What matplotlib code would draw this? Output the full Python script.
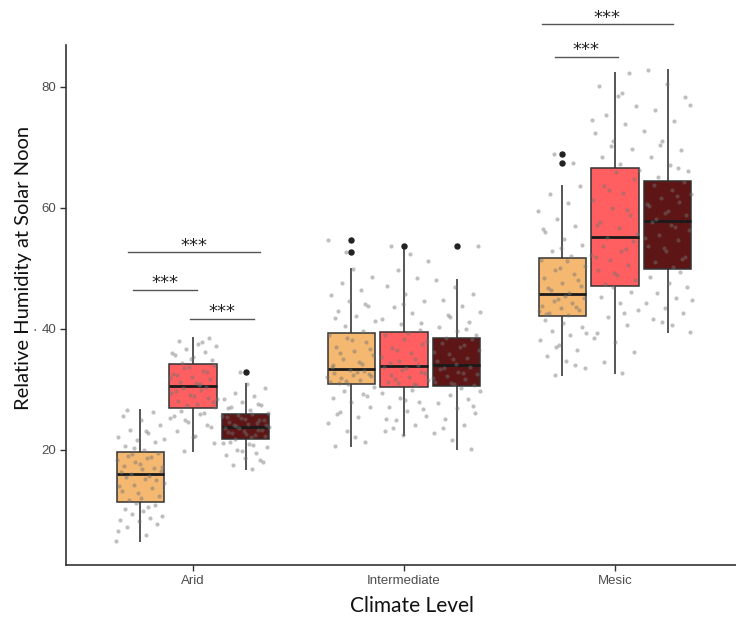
import numpy as np
import matplotlib
matplotlib.use("Agg")
import matplotlib.pyplot as plt

# ---------------- data ----------------
climate_levels = ["Arid", "Intermediate", "Mesic"]
treatments = ["T1", "T2", "T3"]
box_colors = ["#F4B871", "#FF5F60", "#5E1515"]

# box summary per climate level (rows) and treatment (columns)
q1 = [[11.4, 26.8, 21.7], [30.8, 30.3, 30.5], [42.0, 47.0, 49.8]]
median = [[16.0, 30.5, 23.8], [33.3, 33.8, 33.9], [45.7, 55.1, 57.8]]
q3 = [[19.6, 34.1, 25.9], [39.3, 39.4, 38.5], [51.6, 66.5, 64.4]]
whisker_low = [[4.8, 19.8, 16.8], [20.6, 22.4, 20.1], [32.3, 32.7, 39.5]]
whisker_high = [[26.5, 38.5, 30.8], [49.9, 53.6, 48.1], [63.6, 82.2, 82.8]]
outliers = [[[], [], [32.9]], [[52.7, 54.6], [53.6], [53.6]], [[67.4, 68.8], [], []]]

# individual observations
obs_arid_t1 = [4.8, 5.9, 7.2, 7.6, 8.1, 8.4, 8.7, 9.3, 9.0, 9.9, 10.2, 10.8, 11.1, 6.5, 10.5,
               11.7, 12.3, 12.0, 13.2, 13.6, 14.1, 14.4, 15.1, 15.5, 14.9, 12.8, 13.9, 15.7, 16.0,
               16.4, 16.8, 17.3, 17.0, 17.9, 18.2, 18.6, 19.0, 19.4, 17.6, 16.2, 18.8, 19.2, 17.1,
               20.0, 20.6, 21.2, 21.5, 22.1, 22.8, 23.3, 24.0, 24.9, 25.6, 26.2, 20.3, 21.8, 23.0, 26.5]
obs_arid_t2 = [19.8, 21.0, 22.3, 23.1, 24.0, 24.6, 25.2, 25.9, 26.4, 23.7, 22.0, 25.5, 26.1, 24.9,
               27.0, 27.6, 28.1, 28.5, 29.0, 29.4, 29.9, 30.2, 27.9, 28.8, 29.6, 30.4, 27.3, 28.3,
               30.7, 31.2, 31.6, 32.0, 32.5, 33.0, 33.4, 33.9, 31.0, 32.3, 32.8, 33.7, 31.9, 30.9,
               34.3, 34.8, 35.3, 35.7, 36.2, 36.6, 37.1, 37.5, 38.0, 38.5, 35.0, 36.0, 37.8]
obs_arid_t3 = [16.8, 17.4, 17.9, 18.6, 19.1, 19.5, 20.0, 20.4, 20.9, 21.3, 18.2, 19.8, 21.0, 20.7,
               21.8, 22.2, 22.5, 22.9, 23.2, 23.5, 23.7, 22.0, 22.7, 23.3, 23.0, 23.6, 22.4, 23.9,
               24.0, 24.3, 24.6, 24.9, 25.2, 25.5, 25.8, 24.1, 24.8, 25.0, 25.4, 24.4, 25.7,
               26.1, 26.5, 27.0, 27.4, 27.9, 28.3, 28.8, 29.4, 30.1, 30.8, 26.8, 27.6, 32.9]
obs_int_t1 = [20.6, 21.3, 23.0, 24.4, 25.3, 26.2, 27.1, 27.8, 28.5, 29.1, 29.7, 30.3, 22.1, 25.9, 28.9,
              30.9, 31.2, 31.5, 31.8, 32.1, 32.4, 32.7, 33.0, 31.4, 32.0, 32.9, 31.0, 32.5, 33.2,
              33.6, 34.2, 34.9, 35.6, 36.3, 37.0, 37.7, 38.4, 39.0, 34.5, 35.9, 36.7, 38.1, 33.9,
              39.6, 40.4, 41.2, 42.1, 42.9, 43.8, 44.6, 45.5, 46.4, 47.5, 48.6, 49.9, 41.7, 44.0, 52.7, 54.6]
obs_int_t2 = [22.4, 23.1, 24.0, 24.8, 25.6, 26.3, 27.1, 27.9, 28.6, 29.3, 29.9, 23.6, 26.7, 28.2, 25.0,
              30.6, 31.0, 31.5, 32.0, 32.4, 32.8, 33.2, 33.6, 30.8, 31.7, 32.6, 33.4, 31.2,
              34.0, 34.6, 35.3, 36.0, 36.8, 37.5, 38.2, 38.9, 35.0, 36.4, 37.9, 39.2, 34.3,
              39.8, 40.7, 41.6, 42.5, 43.5, 44.6, 45.8, 47.0, 48.3, 49.7, 51.2, 52.4, 53.6, 41.0, 44.1]
obs_int_t3 = [20.1, 21.5, 22.8, 24.0, 25.1, 26.0, 26.9, 27.7, 28.4, 29.0, 29.6, 30.2, 23.5, 27.2,
              30.8, 31.2, 31.7, 32.1, 32.5, 32.9, 33.3, 33.7, 31.0, 31.9, 32.7, 33.5, 30.6,
              34.1, 34.6, 35.2, 35.8, 36.4, 37.0, 37.6, 38.2, 34.9, 36.1, 37.3, 38.4,
              38.9, 39.6, 40.3, 41.1, 41.9, 42.8, 43.7, 44.7, 45.8, 46.9, 48.1, 40.0, 42.2, 53.6]
obs_mes_t1 = [32.3, 33.4, 34.6, 35.5, 36.4, 37.3, 38.1, 38.9, 39.6, 40.3, 40.9, 41.5, 33.9, 36.9, 39.2,
              42.2, 42.6, 43.0, 43.4, 43.8, 44.2, 44.6, 45.0, 45.4, 42.4, 43.6, 44.9, 42.9,
              45.9, 46.4, 47.0, 47.6, 48.3, 49.0, 49.7, 50.4, 51.1, 46.7, 48.0, 50.0, 51.4,
              52.0, 52.9, 53.8, 54.8, 55.9, 57.0, 58.2, 59.5, 60.8, 62.2, 63.6, 53.3, 56.4, 67.4, 68.8]
obs_mes_t2 = [32.7, 34.5, 36.2, 37.8, 39.3, 40.6, 41.9, 43.1, 44.2, 45.2, 46.1, 46.8, 38.5, 42.5,
              47.4, 48.1, 48.9, 49.7, 50.5, 51.3, 52.1, 52.9, 53.7, 54.5, 49.2, 51.8, 53.2, 54.9,
              55.6, 56.6, 57.7, 58.8, 60.0, 61.2, 62.4, 63.6, 64.8, 65.9, 57.2, 59.6, 62.9, 66.3,
              67.2, 68.4, 69.7, 71.0, 72.4, 73.8, 75.3, 76.8, 78.4, 80.1, 82.2, 70.2, 74.5, 79.0]
obs_mes_t3 = [39.5, 40.6, 41.6, 42.5, 43.4, 44.2, 45.0, 45.9, 46.8, 47.6, 48.5, 49.3, 41.1, 44.7,
              50.2, 51.0, 51.9, 52.8, 53.7, 54.6, 55.5, 56.3, 57.1, 57.6, 51.5, 53.3, 55.0, 56.8,
              58.1, 58.8, 59.5, 60.2, 60.9, 61.6, 62.3, 63.0, 63.7, 64.2, 59.1, 60.6, 62.0,
              65.0, 66.0, 67.1, 68.3, 69.6, 71.0, 72.6, 74.3, 76.2, 78.3, 80.5, 82.8, 66.6, 70.3, 77.0]

observations = [[obs_arid_t1, obs_arid_t2, obs_arid_t3],
                [obs_int_t1, obs_int_t2, obs_int_t3],
                [obs_mes_t1, obs_mes_t2, obs_mes_t3]]

# significance brackets: (x start, x end, y, label) in axis data units
brackets = [(0.693, 1.318, 52.6, "***"),
            (0.717, 1.020, 46.4, "***"),
            (0.986, 1.289, 41.6, "***"),
            (2.653, 3.273, 90.3, "***"),
            (2.713, 3.014, 84.9, "***")]

# ---------------- figure ----------------
W, H = 736, 620
fig = plt.figure(figsize=(W / 100, H / 100), dpi=100)
ax = fig.add_axes([66 / W, 55 / H, (W - 66) / W, 520 / H])

dodge = 0.25
box_w = 0.224

stats = []
positions = []
facecolors = []
for g in range(len(climate_levels)):
    for t in range(len(treatments)):
        stats.append(dict(med=median[g][t], q1=q1[g][t], q3=q3[g][t],
                          whislo=whisker_low[g][t], whishi=whisker_high[g][t],
                          fliers=outliers[g][t]))
        positions.append(g + 1 + (t - 1) * dodge)
        facecolors.append(box_colors[t])

bp = ax.bxp(stats, positions=positions, widths=box_w, patch_artist=True,
            showcaps=False, manage_ticks=False,
            boxprops=dict(edgecolor="#333333", linewidth=1.1),
            whiskerprops=dict(color="#555555", linewidth=1.4),
            medianprops=dict(color="#1a1a1a", linewidth=2.0),
            flierprops=dict(marker="o", markerfacecolor="#222222",
                            markeredgecolor="#222222", markersize=3.6))
for patch, fc in zip(bp["boxes"], facecolors):
    patch.set_facecolor(fc)
    patch.set_zorder(2)
for item in bp["whiskers"]:
    item.set_zorder(1)

# jittered observations (deterministic horizontal spread)
golden = 0.6180339887
for g in range(len(climate_levels)):
    for t in range(len(treatments)):
        vals = np.asarray(observations[g][t])
        k = np.arange(len(vals))
        offs = ((k * golden + 0.31 * t + 0.17 * g) % 1.0 - 0.5) * 0.23
        ax.scatter(g + 1 + (t - 1) * dodge + offs, vals, s=9, color="#737373",
                   alpha=0.45, linewidths=0, zorder=3)

# significance brackets
for x0, x1, y, lab in brackets:
    ax.plot([x0, x1], [y, y], color="#555555", linewidth=1.0, clip_on=False)
    ax.text((x0 + x1) / 2, y + 0.3, lab, ha="center", va="baseline",
            fontsize=13, family="DejaVu Sans", color="#222222", clip_on=False)

ax.set_xlim(0.398, 3.573)
ax.set_ylim(0.9, 86.9)
ax.set_xticks([1, 2, 3])
ax.set_xticklabels(climate_levels)
ax.set_yticks([20, 40, 60, 80])
for side in ["top", "right"]:
    ax.spines[side].set_visible(False)
for side in ["left", "bottom"]:
    ax.spines[side].set_color("#333333")
    ax.spines[side].set_linewidth(1.2)
ax.tick_params(axis="both", length=4, width=1.0, color="#333333",
               labelcolor="#4d4d4d", labelsize=9.5, pad=3)
for lbl in ax.get_xticklabels() + ax.get_yticklabels():
    lbl.set_family("Liberation Sans")

fig.text(24 / W, 1 - 268 / H, "Relative Humidity at Solar Noon", rotation=90,
         ha="center", va="center", fontsize=14.5, family="Lato", color="#111111")
fig.text(412 / W, 1 - 606 / H, "Climate Level", ha="center", va="center",
         fontsize=15, family="Lato", color="#111111")
fig.text(35 / W, 1 - 330 / H, "\u00b7", ha="center", va="center",
         fontsize=10, family="Liberation Sans", color="#4d4d4d")

fig.savefig("out.png", dpi=100)
